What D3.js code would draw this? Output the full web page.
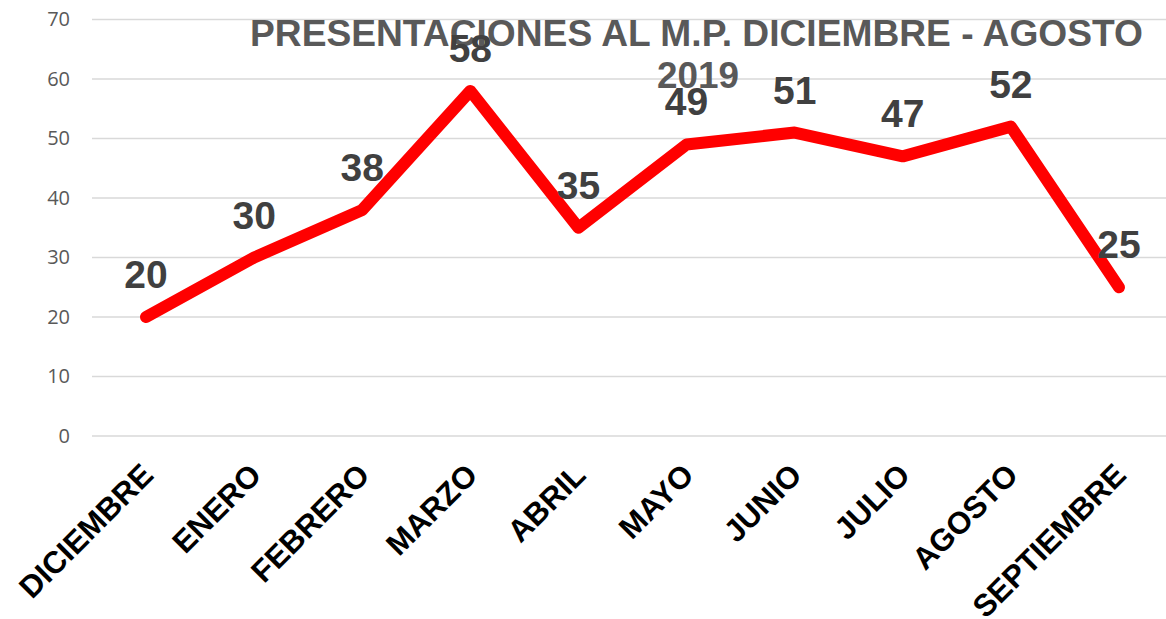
<!DOCTYPE html>
<html>
<head>
<meta charset="utf-8">
<script src="https://cdn.jsdelivr.net/npm/d3@7"></script>
<style>
  html, body { margin: 0; padding: 0; background: #ffffff; }
  svg { display: block; }
</style>
</head>
<body>
<svg id="chart" width="1166" height="619"></svg>
<script>
const months = ["DICIEMBRE", "ENERO", "FEBRERO", "MARZO", "ABRIL", "MAYO", "JUNIO", "JULIO", "AGOSTO", "SEPTIEMBRE"];
const values = [20, 30, 38, 58, 35, 49, 51, 47, 52, 25];
const yTicks = [0, 10, 20, 30, 40, 50, 60, 70];
const titleLines = ["PRESENTACIONES AL M.P. DICIEMBRE - AGOSTO", "2019"];

const W = 1166, H = 619;
const svg = d3.select("#chart");

const x = d3.scaleBand().domain(months).range([92, 1173]);
const y = d3.scaleLinear().domain([0, 70]).range([436, 19.5]);
const cx = d => x(d) + x.bandwidth() / 2;

// gridlines
svg.append("g").selectAll("line").data(yTicks).join("line")
  .attr("x1", 92).attr("x2", W)
  .attr("y1", d => y(d)).attr("y2", d => y(d))
  .attr("stroke", "#d9d9d9").attr("stroke-width", 1.5);

// y axis labels
const yAxis = d3.axisLeft(y).tickValues(yTicks).tickSize(0).tickPadding(0);
const yg = svg.append("g").attr("transform", "translate(70,0)").call(yAxis);
yg.select(".domain").remove();
yg.selectAll("text")
  .attr("font-family", "'Open Sans', sans-serif")
  .attr("font-size", 20)
  .attr("fill", "#595959");

// x axis labels
const xAxis = d3.axisBottom(x).tickSize(0).tickPadding(0);
const xg = svg.append("g").call(xAxis);
xg.select(".domain").remove();
xg.selectAll(".tick").attr("transform", null);
xg.selectAll("text")
  .attr("font-family", "'Liberation Sans', Arial, sans-serif")
  .attr("font-weight", "bold")
  .attr("font-size", 31)
  .attr("fill", "#000000")
  .attr("text-anchor", "end")
  .attr("dy", null)
  .attr("y", null)
  .attr("transform", d => `translate(${cx(d) + 9},477) rotate(-45)`);

// title
const title = svg.append("g");
title.append("text")
  .attr("x", 250).attr("y", 46)
  .attr("textLength", 893).attr("lengthAdjust", "spacingAndGlyphs")
  .attr("font-family", "'Liberation Sans', Arial, sans-serif")
  .attr("font-weight", "bold").attr("font-size", 36)
  .attr("fill", "#595959")
  .text(titleLines[0]);
title.append("text")
  .attr("x", 657).attr("y", 88)
  .attr("textLength", 82).attr("lengthAdjust", "spacingAndGlyphs")
  .attr("font-family", "'Liberation Sans', Arial, sans-serif")
  .attr("font-weight", "bold").attr("font-size", 36)
  .attr("fill", "#595959")
  .text(titleLines[1]);

// line
const data = months.map((m, i) => ({ m, v: values[i] }));
const line = d3.line().x(d => cx(d.m)).y(d => y(d.v));
svg.append("path").datum(data)
  .attr("d", line)
  .attr("fill", "none")
  .attr("stroke", "#ff0000")
  .attr("stroke-width", 12)
  .attr("stroke-linecap", "round")
  .attr("stroke-linejoin", "round");

// data labels
svg.append("g").selectAll("text").data(data).join("text")
  .attr("x", d => cx(d.m))
  .attr("y", d => y(d.v) - 29)
  .attr("text-anchor", "middle")
  .attr("font-family", "'Liberation Sans', Arial, sans-serif")
  .attr("font-weight", "bold").attr("font-size", 39)
  .attr("fill", "#404040")
  .text(d => d.v);
</script>
</body>
</html>
